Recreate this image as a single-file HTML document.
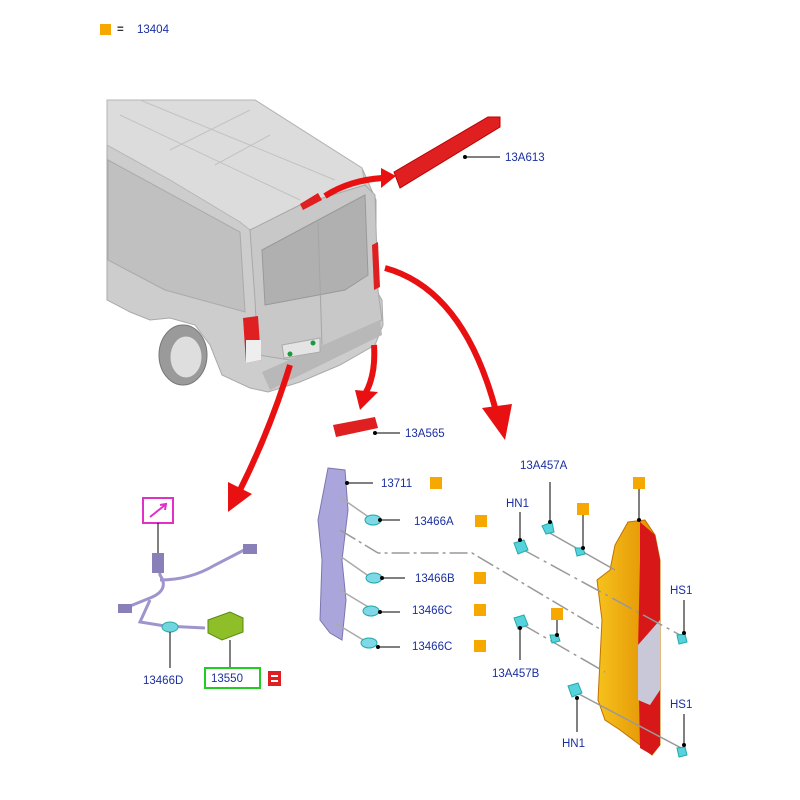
<!DOCTYPE html>
<html><head><meta charset="utf-8"><style>
html,body{margin:0;padding:0;background:#fff;width:800px;height:800px;overflow:hidden}
svg text{font-family:"Liberation Sans",Arial,sans-serif;font-size:11.5px;fill:#1a2fa0}
</style></head><body>
<svg width="800" height="800" viewBox="0 0 800 800" xmlns="http://www.w3.org/2000/svg">
<defs>
<linearGradient id="yg" x1="0" y1="0" x2="1" y2="0"><stop offset="0" stop-color="#f6c21c"/><stop offset="1" stop-color="#e08a00"/></linearGradient>
</defs>
<rect x="100" y="24" width="11" height="11" fill="#f7a800"/>
<text x="117" y="33" style="font-weight:bold;fill:#333">=</text>
<text x="137" y="33">13404</text>

<!-- van body -->
<path d="M107,100 L255,100 L362,168 L376,200 L376,290 L382,300 L383,325 L375,345 L340,365 L300,382 L268,392 L250,388 L222,375 L210,345 L195,325 L170,318 L150,320 L130,312 L107,300 Z" fill="#cdcdcd" stroke="#aaa"/>
<!-- roof -->
<path d="M107,100 L255,100 L362,168 L365,185 L300,205 L250,230 L240,222 L170,180 L107,145 Z" fill="#dcdcdc" stroke="#b5b5b5"/>
<g stroke="#c2c2c2" stroke-width="1" fill="none">
<line x1="120" y1="115" x2="300" y2="200"/><line x1="140" y1="100" x2="335" y2="180"/>
<line x1="170" y1="150" x2="250" y2="110"/><line x1="215" y1="165" x2="270" y2="135"/>
</g>
<!-- side panel -->
<path d="M108,160 L240,232 L245,312 L165,290 L108,260 Z" fill="#c0c0c0" stroke="#aaa"/>
<!-- rear door -->
<path d="M250,230 L300,205 L365,185 L375,195 L378,290 L382,320 L340,345 L290,360 L258,355 L255,300 Z" fill="#c8c8c8" stroke="#a8a8a8"/>
<path d="M262,250 L365,195 L368,275 L345,290 L265,305 Z" fill="#b0b0b0" stroke="#999"/>
<line x1="318" y1="222" x2="322" y2="345" stroke="#a5a5a5"/>
<path d="M262,372 L380,320 L382,335 L270,390 Z" fill="#b8b8b8"/>
<!-- wheel -->
<ellipse cx="183" cy="355" rx="24" ry="30" fill="#9a9a9a" stroke="#777"/>
<ellipse cx="186" cy="357" rx="16" ry="21" fill="#dedede" stroke="#999"/>
<!-- lights -->
<path d="M243,318 L258,316 L261,360 L246,363 Z" fill="#e02020"/>
<path d="M246,340 L261,340 L261,360 L246,363 Z" fill="#eeeeee"/>
<path d="M372,245 L378,242 L380,287 L374,290 Z" fill="#e02020"/>
<path d="M282,345 L320,338 L320,352 L284,358 Z" fill="#e4e4e4" stroke="#aaa"/>
<circle cx="290" cy="354" r="2.5" fill="#1a9a3a"/><circle cx="313" cy="343" r="2.5" fill="#1a9a3a"/>
<path d="M300,204 L318,193 L322,200 L303,210 Z" fill="#e02020"/>

<!-- high mount lamp -->
<path d="M394,172 L488,117 L500,117 L500,127 L400,188 Z" fill="#e02020" stroke="#b00" stroke-width="1"/>
<line x1="465" y1="157" x2="500" y2="157" stroke="#000"/><circle cx="465" cy="157" r="2" fill="#000"/>
<text x="505" y="161">13A613</text>

<!-- red arrows -->
<g fill="none" stroke="#e81010" stroke-width="6">
<path d="M325,196 Q350,180 383,178"/>
<path d="M385,268 Q465,290 497,415"/>
<path d="M374,345 Q376,375 365,394"/>
<path d="M290,365 Q270,430 240,490"/>
</g>
<g fill="#e81010">
<polygon points="381,168 396,176 381,188"/>
<polygon points="482,408 512,404 505,440"/>
<polygon points="355,390 378,392 360,410"/>
<polygon points="228,482 252,494 228,512"/>
</g>

<!-- 13A565 -->
<path d="M333,425 L375,417 L378,428 L336,437 Z" fill="#e02020"/>
<line x1="375" y1="433" x2="400" y2="433" stroke="#000"/><circle cx="375" cy="433" r="2" fill="#000"/>
<text x="405" y="437">13A565</text>

<!-- wiring harness left -->
<rect x="143" y="498" width="30" height="25" fill="#fff" stroke="#e030c8" stroke-width="2"/>
<path d="M150,517 L165,505 M160,505 L166,504 L165,510" stroke="#e030c8" stroke-width="2" fill="none"/>
<line x1="158" y1="523" x2="158" y2="555" stroke="#000"/>
<g fill="none" stroke="#9f95cc" stroke-width="3">
<path d="M158,555 L160,575 Q170,590 150,598 L125,608"/>
<path d="M160,580 Q190,580 215,565 L248,548"/>
<path d="M150,600 L140,622 L165,626 L205,628"/>
</g>
<rect x="152" y="553" width="12" height="20" fill="#8a80b8"/>
<rect x="243" y="544" width="14" height="10" fill="#8a80b8"/>
<rect x="118" y="604" width="14" height="9" fill="#8a80b8"/>
<ellipse cx="170" cy="627" rx="8" ry="5" fill="#6fd6e0" stroke="#3aa"/>
<line x1="170" y1="632" x2="170" y2="668" stroke="#000"/>
<text x="143" y="684">13466D</text>
<path d="M208,620 L230,612 L243,618 L243,632 L222,640 L208,633 Z" fill="#8fbf28" stroke="#5a8a10"/>
<line x1="230" y1="640" x2="230" y2="668" stroke="#000"/>
<rect x="205" y="668" width="55" height="20" fill="#fff" stroke="#22cc22" stroke-width="2"/>
<text x="211" y="682">13550</text>
<rect x="268" y="671" width="13" height="15" fill="#e02020"/>
<rect x="271" y="675" width="7" height="2" fill="#fff"/><rect x="271" y="680" width="7" height="2" fill="#fff"/>

<!-- 13711 bracket -->
<path d="M328,468 L345,470 L348,510 L342,560 L346,600 L342,640 L330,633 L320,620 L322,560 L318,520 Z" fill="#aaa6dc" stroke="#7a76b0"/>
<g stroke="#aaa" stroke-width="1.5">
<line x1="340" y1="497" x2="370" y2="518"/>
<line x1="340" y1="556" x2="370" y2="577"/>
<line x1="340" y1="590" x2="370" y2="608"/>
<line x1="335" y1="623" x2="365" y2="641"/>
</g>
<path d="M340,530 L378,553 L472,553 L610,635" stroke="#999" stroke-width="1.5" fill="none" stroke-dasharray="18,4,3,4"/>
<g fill="#7fd8e6" stroke="#2aa">
<ellipse cx="373" cy="520" rx="8" ry="5"/><ellipse cx="374" cy="578" rx="8" ry="5"/>
<ellipse cx="371" cy="611" rx="8" ry="5"/><ellipse cx="369" cy="643" rx="8" ry="5"/>
</g>
<g stroke="#000">
<line x1="347" y1="483" x2="373" y2="483"/><line x1="380" y1="520" x2="400" y2="520"/>
<line x1="382" y1="578" x2="405" y2="578"/><line x1="380" y1="612" x2="400" y2="612"/>
<line x1="378" y1="647" x2="400" y2="647"/>
</g>
<g fill="#000"><circle cx="347" cy="483" r="2"/><circle cx="380" cy="520" r="2"/><circle cx="382" cy="578" r="2"/><circle cx="380" cy="612" r="2"/><circle cx="378" cy="647" r="2"/></g>
<text x="381" y="487">13711</text>
<text x="414" y="525">13466A</text>
<text x="415" y="582">13466B</text>
<text x="412" y="614">13466C</text>
<text x="412" y="650">13466C</text>
<g fill="#f7a800">
<rect x="430" y="477" width="12" height="12"/><rect x="475" y="515" width="12" height="12"/>
<rect x="474" y="572" width="12" height="12"/><rect x="474" y="604" width="12" height="12"/>
<rect x="474" y="640" width="12" height="12"/>
<rect x="577" y="503" width="12" height="12"/><rect x="633" y="477" width="12" height="12"/>
<rect x="551" y="608" width="12" height="12"/>
</g>

<!-- tail lamp -->
<path d="M628,522 L645,520 L655,535 L660,560 L660,745 L652,755 L640,745 L620,730 L605,720 L598,700 L602,620 L597,580 L610,570 L615,545 Z" fill="url(#yg)" stroke="#c07000"/>
<path d="M640,522 L655,535 L660,560 L660,745 L652,755 L640,748 L638,650 L640,560 Z" fill="#d81818"/>
<path d="M638,645 L660,620 L660,690 L650,705 L638,700 Z" fill="#c8c8d8"/>
<g stroke="#999" stroke-width="1.5" fill="none">
<line x1="548" y1="532" x2="615" y2="570"/>
<line x1="520" y1="548" x2="680" y2="635" stroke-dasharray="22,5,3,5"/>
<line x1="520" y1="623" x2="605" y2="672" stroke-dasharray="22,5,3,5"/>
<line x1="575" y1="692" x2="685" y2="750"/>
</g>
<g fill="#56d2dc" stroke="#2aa">
<path d="M542,526 l10,-4 l2,10 l-8,2 z"/><path d="M575,548 l8,0 l2,6 l-8,2 z"/>
<path d="M514,543 l10,-3 l4,10 l-10,4 z"/><path d="M514,618 l10,-3 l4,10 l-10,4 z"/>
<path d="M550,635 l8,0 l2,6 l-8,2 z"/><path d="M568,686 l10,-3 l4,10 l-10,4 z"/>
<path d="M677,635 l8,-1 l2,8 l-8,2 z"/><path d="M677,748 l8,-1 l2,8 l-8,2 z"/>
</g>
<g stroke="#000">
<line x1="550" y1="482" x2="550" y2="522"/><line x1="520" y1="512" x2="520" y2="540"/>
<line x1="583" y1="515" x2="583" y2="548"/><line x1="639" y1="489" x2="639" y2="520"/>
<line x1="684" y1="600" x2="684" y2="633"/><line x1="684" y1="714" x2="684" y2="745"/>
<line x1="520" y1="628" x2="520" y2="660"/><line x1="557" y1="620" x2="557" y2="635"/>
<line x1="577" y1="698" x2="577" y2="732"/>
</g>
<g fill="#000"><circle cx="550" cy="522" r="2"/><circle cx="520" cy="540" r="2"/><circle cx="583" cy="548" r="2"/><circle cx="639" cy="520" r="2"/><circle cx="684" cy="633" r="2"/><circle cx="684" cy="745" r="2"/><circle cx="520" cy="628" r="2"/><circle cx="557" cy="635" r="2"/><circle cx="577" cy="698" r="2"/></g>
<text x="520" y="469">13A457A</text>
<text x="506" y="507">HN1</text>
<text x="670" y="594">HS1</text>
<text x="670" y="708">HS1</text>
<text x="492" y="677">13A457B</text>
<text x="562" y="747">HN1</text>
</svg>
</body></html>
